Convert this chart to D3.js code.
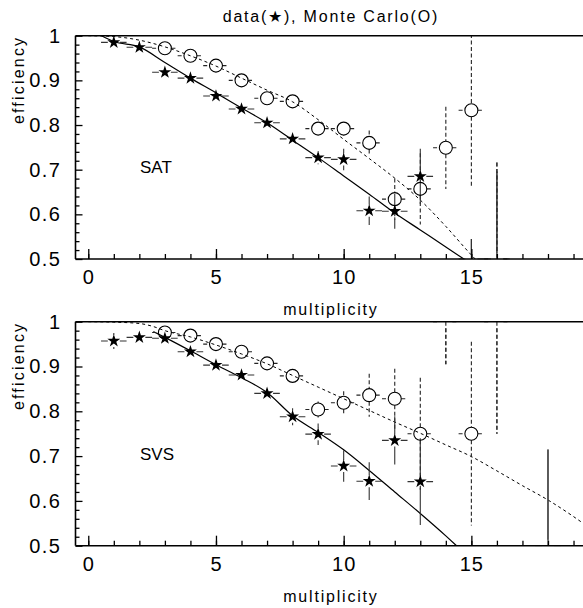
<!DOCTYPE html>
<html><head><meta charset="utf-8">
<script src="https://cdn.jsdelivr.net/npm/d3@7"></script>
<style>
html,body{margin:0;padding:0;background:#fff;}
svg{display:block;}
text{font-family:"Liberation Sans",Arial,sans-serif;fill:#000;}
</style></head>
<body><svg id="chart" width="583" height="608"></svg>
<script>
// ---------- data ----------
const title = "data(\u2605), Monte Carlo(O)";
const xTitle = "multiplicity";
const yTitle = "efficiency";
const panelNames = ["SAT", "SVS"];
const xMajorTicks = [0, 5, 10, 15];
const xMinorTicks = [0,1,2,3,4,5,6,7,8,9,10,11,12,13,14,15,16,17,18,19];
const yMajorTicks = [0.5, 0.6, 0.7, 0.8, 0.9, 1];
const yMinorTicks = [0.52,0.54,0.56,0.58,0.62,0.64,0.66,0.68,0.72,0.74,0.76,0.78,0.82,0.84,0.86,0.88,0.92,0.94,0.96,0.98];

// SAT panel
const satDataX   = [1,2,3,4,5,6,7,8,9,10,11,12,13,15,16];
const satDataY   = [0.985,0.974,0.918,0.905,0.865,0.836,0.805,0.769,0.727,0.723,0.608,0.607,0.685,0.5,0.5];
const satDataErr = [0.006,0.006,0.006,0.007,0.008,0.009,0.010,0.012,0.015,0.024,0.032,0.039,0.062,0.045,0.196];
const satMcX   = [3,4,5,6,7,8,9,10,11,12,13,14,15,16];
const satMcY   = [0.972,0.955,0.933,0.900,0.860,0.853,0.792,0.792,0.760,0.634,0.657,0.749,0.833,0.5];
const satMcErr = [0.004,0.005,0.006,0.007,0.008,0.010,0.012,0.015,0.028,0.046,0.080,0.092,0.171,0.216];
const satFitDataX = [0.52,1,2,3,4,5,6,7,8,9,10,11,12,13,14,14.7];
const satFitDataY = [1.0,0.987,0.975,0.94,0.905,0.872,0.838,0.805,0.766,0.727,0.686,0.645,0.603,0.565,0.527,0.5];
const satFitMcX = [0,1,2,3,4,5,6,7,8,9,10,11,12,13,14,15,15.15];
const satFitMcY = [1.0,0.998,0.99,0.975,0.955,0.932,0.905,0.878,0.852,0.812,0.768,0.725,0.681,0.632,0.573,0.509,0.5];

// SVS panel
const svsDataX   = [1,2,3,4,5,6,7,8,9,10,11,12,13,18];
const svsDataY   = [0.957,0.965,0.963,0.933,0.903,0.881,0.840,0.788,0.749,0.678,0.644,0.735,0.643,0.5];
const svsDataErr = [0.018,0.005,0.006,0.008,0.010,0.010,0.012,0.019,0.024,0.035,0.042,0.054,0.097,0.215];
const svsMcX   = [3,4,5,6,7,8,9,10,11,12,13,14,15,16];
const svsMcY   = [0.976,0.969,0.950,0.933,0.907,0.879,0.804,0.819,0.836,0.828,0.750,1.0,0.750,1.0];
const svsMcErr = [0.005,0.006,0.007,0.008,0.010,0.012,0.018,0.026,0.048,0.067,0.125,0.095,0.205,0.25];
const svsFitDataX = [2.55,3,4,5,6,7,8,9,10,11,12,13,14,14.42];
const svsFitDataY = [0.978,0.965,0.935,0.904,0.875,0.842,0.79,0.753,0.714,0.668,0.62,0.572,0.522,0.5];
const svsFitMcX = [0,1,2,2.5,3,4,5,6,7,8,9,10,11,12,13,14,15,16,17,18,19,19.5];
const svsFitMcY = [1.0,0.999,0.996,0.99,0.98,0.966,0.948,0.928,0.906,0.88,0.854,0.828,0.802,0.776,0.751,0.725,0.699,0.667,0.634,0.602,0.565,0.545];

// ---------- drawing ----------
const svg = d3.select("#chart");
const plotLeft = 75.5, plotRight = 586.3;
const x = d3.scaleLinear().domain([-0.5, 19.5]).range([plotLeft, plotRight]);

const panels = [
  {name: panelNames[0], top: 35.7, bottom: 259,
   data: {x: satDataX, y: satDataY, e: satDataErr}, mc: {x: satMcX, y: satMcY, e: satMcErr},
   fitData: {x: satFitDataX, y: satFitDataY}, fitMc: {x: satFitMcX, y: satFitMcY}},
  {name: panelNames[1], top: 321.7, bottom: 545.7,
   data: {x: svsDataX, y: svsDataY, e: svsDataErr}, mc: {x: svsMcX, y: svsMcY, e: svsMcErr},
   fitData: {x: svsFitDataX, y: svsFitDataY}, fitMc: {x: svsFitMcX, y: svsFitMcY}}
];

const centerX = (plotLeft + plotRight) / 2;
svg.append("text").attr("x", centerX).attr("y", 22).attr("text-anchor", "middle")
  .style("font-size", "16px").style("letter-spacing", "1.8px").text(title);

panels.forEach((p, pi) => {
  const y = d3.scaleLinear().domain([0.5, 1]).range([p.bottom, p.top]);
  const g = svg.append("g");
  const clipId = "clip" + pi;
  svg.append("clipPath").attr("id", clipId).append("rect")
    .attr("x", plotLeft).attr("y", p.top - 0.5).attr("width", plotRight - plotLeft).attr("height", p.bottom - p.top + 1);
  const inner = g.append("g").attr("clip-path", `url(#${clipId})`);

  // fit lines
  const line = d3.line().x(d => x(d[0])).y(d => y(d[1])).curve(d3.curveMonotoneX);
  inner.append("path").datum(d3.zip(p.fitMc.x, p.fitMc.y)).attr("d", line)
    .attr("fill", "none").attr("stroke", "#000").attr("stroke-width", 1).attr("stroke-dasharray", "3,3");
  inner.append("path").datum(d3.zip(p.fitData.x, p.fitData.y)).attr("d", line)
    .attr("fill", "none").attr("stroke", "#000").attr("stroke-width", 1.2);

  function errBars(series, gap, dash, color) {
    const gg = inner.append("g").attr("stroke", color).attr("stroke-width", 1.1).attr("fill", "none");
    if (dash) gg.attr("stroke-dasharray", dash);
    series.x.forEach((xv, i) => {
      const cx = x(xv), cy = y(series.y[i]);
      const xl = x(xv - 0.5), xr = x(xv + 0.5);
      const yt = y(series.y[i] + series.e[i]), yb = y(series.y[i] - series.e[i]);
      gg.append("line").attr("x1", xl).attr("x2", cx - gap).attr("y1", cy).attr("y2", cy);
      gg.append("line").attr("x1", cx + gap).attr("x2", xr).attr("y1", cy).attr("y2", cy);
      if (cy - yt > gap) gg.append("line").attr("x1", cx).attr("x2", cx).attr("y1", yt).attr("y2", cy - gap);
      if (yb - cy > gap) gg.append("line").attr("x1", cx).attr("x2", cx).attr("y1", cy + gap).attr("y2", yb);
      if (series.y[i] <= 0.5 && cy - yt > 0) gg.append("line").attr("x1", cx).attr("x2", cx).attr("y1", yt).attr("y2", cy);
      if (series.y[i] >= 1 && yb - cy > 0) gg.append("line").attr("x1", cx).attr("x2", cx).attr("y1", cy).attr("y2", yb);
    });
  }
  errBars(p.mc, 6.5, "4,2.5", "#222");
  errBars(p.data, 6, null, "#333");

  // MC markers (open circles)
  inner.selectAll("circle.mc").data(d3.zip(p.mc.x, p.mc.y).filter(d => d[1] > 0.5 && d[1] < 1))
    .join("circle").attr("class", "mc")
    .attr("cx", d => x(d[0])).attr("cy", d => y(d[1])).attr("r", 6.5)
    .attr("fill", "none").attr("stroke", "#000").attr("stroke-width", 1.1);
  // data markers (stars)
  const star = d3.symbol().type(d3.symbolStar).size(52);
  inner.selectAll("path.star").data(d3.zip(p.data.x, p.data.y).filter(d => d[1] > 0.5 && d[1] < 1))
    .join("path").attr("class", "star")
    .attr("transform", d => `translate(${x(d[0])},${y(d[1])})`).attr("d", star).attr("fill", "#000");

  // axes
  const axX = d3.axisBottom(x).tickValues(xMajorTicks).tickSize(-10).tickPadding(11).tickFormat(d => String(d));
  const axXm = d3.axisBottom(x).tickValues(xMinorTicks).tickSize(-5).tickFormat("");
  const gx = g.append("g").attr("transform", `translate(0,${p.bottom})`);
  gx.call(axXm); gx.append("g").call(axX);
  const axY = d3.axisLeft(y).tickValues(yMajorTicks).tickSize(-7).tickPadding(14).tickFormat(d => String(d));
  const axYm = d3.axisLeft(y).tickValues(yMinorTicks).tickSize(-4).tickFormat("");
  const gy = g.append("g").attr("transform", `translate(${plotLeft},0)`);
  gy.call(axYm); gy.append("g").call(axY);
  g.selectAll(".domain").remove();
  g.selectAll(".tick line").attr("stroke", "#000").attr("stroke-width", 1.3);
  gx.selectAll(".tick text").style("font-size", "20px").style("font-family", "Liberation Sans, Arial, sans-serif").style("letter-spacing", "1px");
  gy.selectAll(".tick text").style("font-size", "20px").style("font-family", "Liberation Sans, Arial, sans-serif").style("letter-spacing", "1.5px");

  // frame
  g.append("line").attr("x1", plotLeft).attr("x2", plotRight).attr("y1", p.top).attr("y2", p.top).attr("stroke", "#000").attr("stroke-width", 1.6);
  g.append("line").attr("x1", plotLeft).attr("x2", plotRight).attr("y1", p.bottom).attr("y2", p.bottom).attr("stroke", "#000").attr("stroke-width", 1.6);
  g.append("line").attr("x1", plotLeft).attr("x2", plotLeft).attr("y1", p.top).attr("y2", p.bottom).attr("stroke", "#000").attr("stroke-width", 1.6);

  // labels
  g.append("text").attr("x", 140).attr("y", y(0.705) + 6).style("font-size", "17px").text(p.name);
  g.append("text").attr("x", centerX).attr("y", p.bottom + 56).attr("text-anchor", "middle")
    .style("font-size", "16px").style("letter-spacing", "1.8px").text(xTitle);
  g.append("text").attr("transform", `translate(24,${p.top}) rotate(-90)`).attr("text-anchor", "end")
    .style("font-size", "16px").style("letter-spacing", "2.2px").text(yTitle);
});
</script></body></html>
